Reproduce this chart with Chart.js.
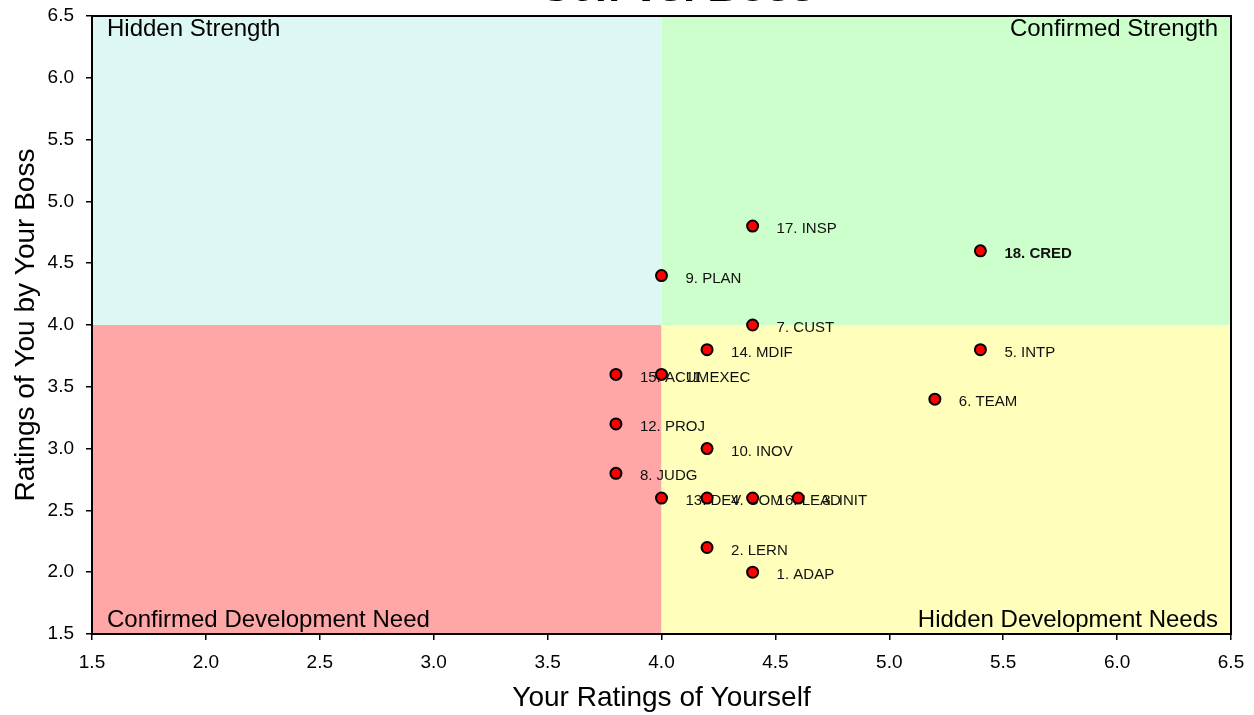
<!DOCTYPE html>
<html>
<head>
<meta charset="utf-8">
<script src="https://cdn.jsdelivr.net/npm/chart.js@4.4.1/dist/chart.umd.min.js"></script>
<style>
html,body{margin:0;padding:0;background:#fff;overflow:hidden;}
#wrap{position:absolute;left:0;top:0;width:1254px;height:715px;}
</style>
</head>
<body>
<div id="wrap"><canvas id="c" width="1254" height="715"></canvas></div>
<script>
const labels = ["1. ADAP","2. LERN","3. INIT","4. COM","5. INTP","6. TEAM","7. CUST","8. JUDG","9. PLAN","10. INOV","11. EXEC","12. PROJ","13. DEV","14. MDIF","15. ACUM","16. LEAD","17. INSP","18. CRED"];
const selfRatings = [4.4,4.2,4.6,4.2,5.4,5.2,4.4,3.8,4.0,4.2,4.0,3.8,4.0,4.2,3.8,4.4,4.4,5.4];
const bossRatings = [2.0,2.2,2.6,2.6,3.8,3.4,4.0,2.8,4.4,3.0,3.6,3.2,2.6,3.8,3.6,2.6,4.8,4.6];
const boldLabels = ["18. CRED"];
const xTicks = [1.5,2.0,2.5,3.0,3.5,4.0,4.5,5.0,5.5,6.0,6.5];
const yTicks = [1.5,2.0,2.5,3.0,3.5,4.0,4.5,5.0,5.5,6.0,6.5];
const quadrantNames = ["Hidden Strength","Confirmed Strength","Confirmed Development Need","Hidden Development Needs"];
const midpoint = 4.0;
const titleText = "Self vs. Boss";
const xTitle = "Your Ratings of Yourself";
const yTitle = "Ratings of You by Your Boss";

const FONT = "'Liberation Sans', Arial, sans-serif";

const points = selfRatings.map((x,i)=>({x:x, y:bossRatings[i]}));

const bgPlugin = {
  id:'bg',
  beforeDraw(chart){
    const {ctx, chartArea:a, scales:{x,y}} = chart;
    const mx = x.getPixelForValue(midpoint), my = y.getPixelForValue(midpoint);
    ctx.save();
    ctx.fillStyle='#ddf7f4'; ctx.fillRect(a.left,a.top,mx-a.left,my-a.top);
    ctx.fillStyle='#ccffcc'; ctx.fillRect(mx,a.top,a.right-mx,my-a.top);
    ctx.fillStyle='#ffa6a6'; ctx.fillRect(a.left,my,mx-a.left,a.bottom-my);
    ctx.fillStyle='#ffffbb'; ctx.fillRect(mx,my,a.right-mx,a.bottom-my);
    // title (partly cut off at the top)
    ctx.fillStyle='#000';
    ctx.font = "bold 44px "+FONT;
    ctx.textAlign='center'; ctx.textBaseline='alphabetic';
    ctx.fillText(titleText, 678, 1);
    ctx.restore();
  },
  beforeDatasetsDraw(chart){
    const {ctx, chartArea:a} = chart;
    ctx.save();
    ctx.fillStyle='#000';
    ctx.font = "24px "+FONT;
    ctx.textBaseline='middle';
    ctx.textAlign='left';
    ctx.fillText(quadrantNames[0], a.left+15, a.top+13);
    ctx.fillText(quadrantNames[2], a.left+15, a.bottom-14);
    ctx.textAlign='right';
    ctx.fillText(quadrantNames[1], a.right-13, a.top+13);
    ctx.fillText(quadrantNames[3], a.right-13, a.bottom-14);
    const meta = chart.getDatasetMeta(0);
    ctx.textAlign='left';
    meta.data.forEach((el,i)=>{
      const lb = labels[i];
      ctx.font = (boldLabels.includes(lb)?"bold ":"") + "15px "+FONT;
      ctx.fillStyle = '#111';
      ctx.fillText(lb, el.x+24, el.y+3);
    });
    ctx.strokeStyle='#000'; ctx.lineWidth=2;
    ctx.strokeRect(a.left, a.top, a.right-a.left, a.bottom-a.top);
    ctx.restore();
  }
};

new Chart(document.getElementById('c'), {
  type:'scatter',
  data:{datasets:[{
    data: points,
    pointRadius:5.5,
    pointHoverRadius:5.5,
    pointBackgroundColor:'#ff0000',
    pointBorderColor:'#000',
    pointBorderWidth:2
  }]},
  options:{
    responsive:false,
    animation:false,
    events:[],
    layout:{padding:{top:16,right:23,left:0,bottom:0}},
    plugins:{legend:{display:false},tooltip:{enabled:false},title:{display:false}},
    scales:{
      x:{
        type:'linear', min:1.5, max:6.5,
        afterBuildTicks(s){ s.ticks = xTicks.map(v=>({value:v})); },
        afterFit(s){ s.height = 81; s.paddingLeft = 0; s.paddingRight = 0; },
        grid:{drawOnChartArea:false, drawTicks:true, tickLength:6, color:'#000', lineWidth:1.5},
        border:{display:true, color:'#000', width:2},
        ticks:{color:'#000', font:{family:FONT, size:19}, padding:11, maxRotation:0, callback:v=>Number(v).toFixed(1)},
        title:{display:true, text:xTitle, color:'#000', font:{family:FONT, size:28}, padding:{top:0,bottom:0}}
      },
      y:{
        type:'linear', min:1.5, max:6.5,
        afterBuildTicks(s){ s.ticks = yTicks.map(v=>({value:v})); },
        afterFit(s){ s.width = 92; s.paddingTop = 0; s.paddingBottom = 0; },
        grid:{drawOnChartArea:false, drawTicks:true, tickLength:6, color:'#000', lineWidth:1.5},
        border:{display:true, color:'#000', width:2},
        ticks:{color:'#000', font:{family:FONT, size:19}, padding:12, callback:v=>Number(v).toFixed(1)},
        title:{display:true, text:yTitle, color:'#000', font:{family:FONT, size:28}, padding:{top:9,bottom:0}}
      }
    }
  },
  plugins:[bgPlugin]
});
</script>
</body>
</html>
